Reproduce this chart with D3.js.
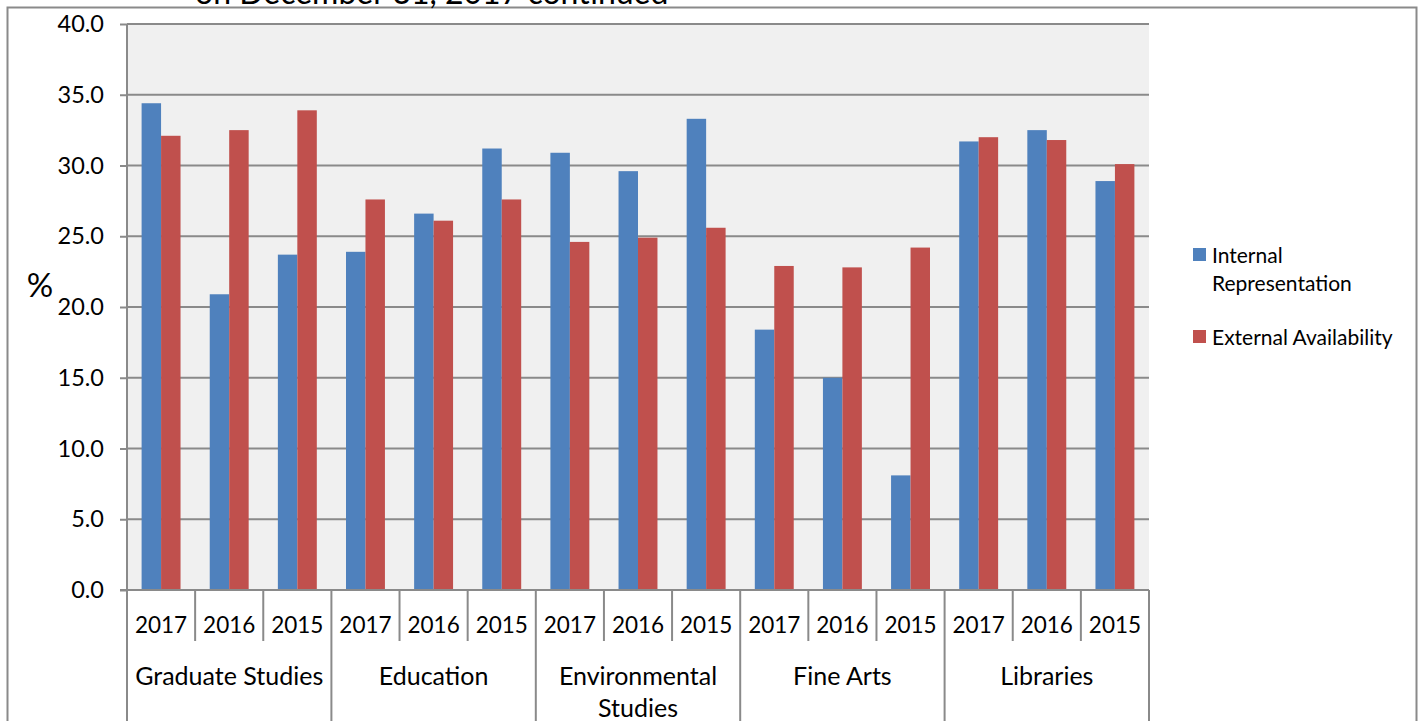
<!DOCTYPE html>
<html>
<head>
<meta charset="utf-8">
<script src="https://cdn.jsdelivr.net/npm/d3@7"></script>
<style>
  html, body { margin: 0; padding: 0; background: #fff; }
  svg { display: block; font-family: Lato, "Open Sans", sans-serif; }
</style>
</head>
<body>
<svg id="chart" width="1422" height="721"></svg>
<script>
// Faculty groups and the years shown under each
const groups = ["Graduate Studies", "Education", "Environmental Studies", "Fine Arts", "Libraries"];
const years = ["2017", "2016", "2015"];
const seriesNames = ["Internal Representation", "External Availability"];

// Percent values, in group order, then year order
const internalRep = [34.4, 20.9, 23.7, 23.9, 26.6, 31.2, 30.9, 29.6, 33.3, 18.4, 15.0, 8.1, 31.7, 32.5, 28.9];
const externalAvail = [32.1, 32.5, 33.9, 27.6, 26.1, 27.6, 24.6, 24.9, 25.6, 22.9, 22.8, 24.2, 32.0, 31.8, 30.1];

const yTicks = [0, 5, 10, 15, 20, 25, 30, 35, 40];
const colors = ["#4f81bd", "#c0504d"];

const svg = d3.select("#chart");
const plotLeft = 127, plotRight = 1149, plotTop = 24, plotBottom = 590;
const axisGray = "#8a8a8a";

// Rows for each (group, year) slot
const slots = [];
groups.forEach((g, gi) => years.forEach((yr, yi) => {
  const i = gi * years.length + yi;
  slots.push({ key: g + "|" + yr, group: g, year: yr, values: [internalRep[i], externalAvail[i]] });
}));

const x = d3.scaleBand().domain(slots.map(d => d.key)).range([plotLeft, plotRight]).padding(0);
const xSeries = d3.scaleBand().domain(seriesNames).range([0, x.bandwidth()]).paddingInner(0).paddingOuter(0.75);
const y = d3.scaleLinear().domain([0, 40]).range([plotBottom, plotTop]);

// Outer frame
svg.append("path")
  .attr("d", `M7.5,721 V7.5 H1416.5 V721`)
  .attr("fill", "none").attr("stroke", axisGray).attr("stroke-width", 2);

// Heading, running off the top of the page
svg.append("text")
  .attr("x", 195).attr("y", 4)
  .attr("font-size", 32).attr("fill", "#000")
  .text("on December 31, 2017 continued");

// Plot background
svg.append("rect")
  .attr("x", plotLeft).attr("y", plotTop)
  .attr("width", plotRight - plotLeft).attr("height", plotBottom - plotTop)
  .attr("fill", "#f0f0f0");

// Gridlines
svg.append("g").selectAll("line").data(yTicks.filter(t => t > 0)).join("line")
  .attr("x1", plotLeft).attr("x2", plotRight)
  .attr("y1", d => y(d)).attr("y2", d => y(d))
  .attr("stroke", axisGray).attr("stroke-width", 2);

// Y axis
const yAxis = d3.axisLeft(y).tickValues(yTicks).tickFormat(d3.format(".1f")).tickSize(7).tickPadding(16);
const gy = svg.append("g").attr("transform", `translate(${plotLeft},0)`).call(yAxis);
gy.select(".domain").remove();
gy.selectAll(".tick line").attr("stroke", axisGray).attr("stroke-width", 2);
gy.selectAll(".tick text").attr("font-size", 23.5).attr("fill", "#000").attr("font-family", "Lato, sans-serif");
svg.append("line")
  .attr("x1", plotLeft).attr("x2", plotLeft).attr("y1", plotTop).attr("y2", 721)
  .attr("stroke", axisGray).attr("stroke-width", 2);

svg.append("text")
  .attr("x", 40).attr("y", 289).attr("text-anchor", "middle").attr("dominant-baseline", "middle")
  .attr("font-size", 33).text("%");

// Bars
const slotG = svg.append("g").selectAll("g").data(slots).join("g")
  .attr("transform", d => `translate(${x(d.key)},0)`);
slotG.selectAll("rect").data(d => d.values.map((v, i) => ({ v, s: seriesNames[i], i }))).join("rect")
  .attr("x", d => xSeries(d.s))
  .attr("width", xSeries.bandwidth())
  .attr("y", d => y(d.v))
  .attr("height", d => y(0) - y(d.v))
  .attr("fill", d => colors[d.i]);

// X axis baseline
svg.append("line")
  .attr("x1", plotLeft - 7).attr("x2", plotRight).attr("y1", plotBottom).attr("y2", plotBottom)
  .attr("stroke", axisGray).attr("stroke-width", 2);

// Separators: short between years, full-height between groups
const boundaries = d3.range(slots.length + 1);
svg.append("g").selectAll("line").data(boundaries).join("line")
  .attr("x1", i => i < slots.length ? x(slots[i].key) : plotRight)
  .attr("x2", i => i < slots.length ? x(slots[i].key) : plotRight)
  .attr("y1", plotBottom)
  .attr("y2", i => (i % years.length === 0) ? 721 : 641)
  .attr("stroke", axisGray).attr("stroke-width", 2);

// Year labels
svg.append("g").selectAll("text").data(slots).join("text")
  .attr("x", d => x(d.key) + x.bandwidth() / 2)
  .attr("y", 624)
  .attr("text-anchor", "middle").attr("dominant-baseline", "central")
  .attr("font-size", 22.5).text(d => d.year);

// Group labels (wrapped where needed)
const groupLines = { "Environmental Studies": ["Environmental", "Studies"] };
const groupG = svg.append("g").selectAll("text").data(groups).join("text")
  .attr("x", g => x(g + "|" + years[0]) + x.bandwidth() * years.length / 2)
  .attr("y", 675)
  .attr("text-anchor", "middle").attr("dominant-baseline", "central")
  .attr("font-size", 25);
groupG.each(function (g) {
  const lines = groupLines[g] || [g];
  const t = d3.select(this);
  lines.forEach((ln, i) => {
    t.append("tspan").attr("x", t.attr("x")).attr("dy", i === 0 ? 0 : 32).text(ln);
  });
});

// Legend
const legend = svg.append("g");
const legendItems = [
  { lines: ["Internal", "Representation"], y: 254, c: colors[0] },
  { lines: ["External Availability"], y: 336, c: colors[1] }
];
legendItems.forEach(item => {
  legend.append("rect").attr("x", 1193).attr("y", item.y - 6).attr("width", 13).attr("height", 13).attr("fill", item.c);
  const t = legend.append("text").attr("x", 1212).attr("y", item.y)
    .attr("dominant-baseline", "central").attr("font-size", 21);
  item.lines.forEach((ln, i) => t.append("tspan").attr("x", 1212).attr("dy", i === 0 ? 0 : 28).text(ln));
});
</script>
</body>
</html>
